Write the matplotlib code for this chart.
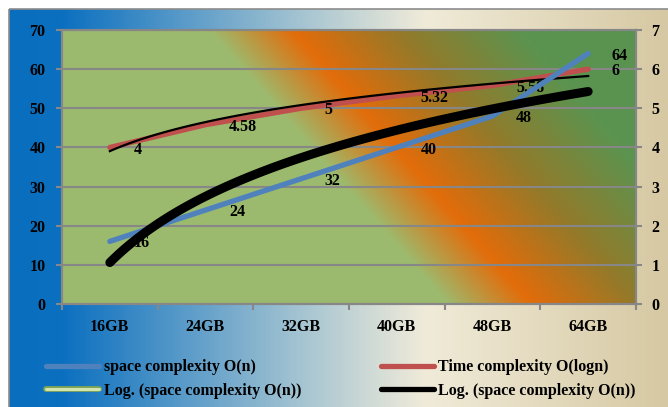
import matplotlib
matplotlib.use("Agg")
import matplotlib.pyplot as plt
import numpy as np
from matplotlib.colors import LinearSegmentedColormap
from matplotlib.lines import Line2D
from matplotlib import patheffects as pe

# data
categories = ["16GB", "24GB", "32GB", "40GB", "48GB", "64GB"]
space_vals = [16, 24, 32, 40, 48, 64]
time_vals = [4, 4.58, 5, 5.32, 5.58, 6]
time_labels = ["4", "4.58", "5", "5.32", "5.58", "6"]
legend_labels = ["space complexity O(n)", "Log. (space complexity O(n))",
                 "Time complexity O(logn)", "Log. (space complexity O(n))"]

W, H = 668, 407
GREY = "#878787"
BLUE = "#4F81BD"
RED = "#C0504D"

plt.rcParams['font.family'] = ['Liberation Serif', 'DejaVu Serif']
plt.rcParams['font.weight'] = 'bold'
plt.rcParams['font.size'] = 11.5

fig = plt.figure(figsize=(W / 100, H / 100), dpi=100)

# chart area background (horizontal gradient, blue -> cream -> tan)
bg = fig.add_axes([0, 0, 1, 1], zorder=-10)
bg.set_xlim(0, W)
bg.set_ylim(H, 0)
bg.axis('off')
outer = LinearSegmentedColormap.from_list(
    "outer", [(0, "#0A6EBE"), (0.08, "#0C70C0"), (0.45, "#A8C6D2"),
              (0.63, "#F0EBD9"), (1, "#D6C8A2")])
bg.imshow(np.linspace(0, 1, 400)[None, :], cmap=outer, extent=(9, W + 2, H + 2, 9),
          aspect='auto', interpolation='bilinear')
bg.add_patch(plt.Rectangle((8.5, 8.5), W, H, fill=False, ec="#8C8C8C", lw=1.2))

# plot area
ax = fig.add_axes([62 / W, 1 - 304 / H, 574 / W, 274 / H])
ax2 = ax.twinx()
ax.set_zorder(ax2.get_zorder() + 1)
ax.patch.set_visible(False)

# diagonal gradient fill of the plot area
u = np.linspace(0, 574, 400)
v = np.linspace(274, 0, 200)
U, V = np.meshgrid(u, v)
S = (U + 0.87 * V) / (574 + 0.87 * 274)
inner = LinearSegmentedColormap.from_list(
    "inner", [(0, "#9BBB6E"), (0.475, "#9DBA6E"), (0.578, "#E36C0A"),
              (0.71, "#937A2A"), (0.86, "#5B9450"), (1, "#5A9350")])
ax2.imshow(S, cmap=inner, vmin=0, vmax=1, extent=(-0.5, 5.5, 0, 7),
           aspect='auto', zorder=0, interpolation='bilinear')

x = np.arange(len(categories))
ax.plot(x, space_vals, color=BLUE, lw=3.8, solid_capstyle='round', zorder=3)
ax2.plot(x, time_vals, color=RED, lw=3.8, solid_capstyle='round', zorder=3)

# logarithmic trendlines (Excel style: y = a*ln(x) + b, x = 1..n)
xs = np.linspace(1, len(categories), 120)
a, b = np.polyfit(np.log(x + 1), space_vals, 1)
ax.plot(xs - 1, a * np.log(xs) + b, color='black', lw=6.5, solid_capstyle='round', zorder=4)
c, d = np.polyfit(np.log(x + 1), time_vals, 1)
ax2.plot(xs - 1, c * np.log(xs) + d, color='black', lw=1.6, zorder=4)

for i, val in enumerate(space_vals):
    ax.annotate(str(val), (x[i], val), xytext=(17, -1.5), textcoords='offset points',
                ha='left', va='center', zorder=6)
for i, val in enumerate(time_vals):
    ax2.annotate(time_labels[i], (x[i], val), xytext=(17, -1.5), textcoords='offset points',
                 ha='left', va='center', zorder=6)

ax.set_xlim(-0.5, 5.5)
ax.set_ylim(0, 70)
ax2.set_ylim(0, 7)
ax.set_yticks(range(0, 71, 10))
ax2.set_yticks(range(0, 8))
ax.set_xticks(np.arange(-0.5, 6, 1))
ax.set_xticklabels([])
ax.set_xticks(x, minor=True)
ax.set_xticklabels(categories, minor=True)
ax.tick_params(axis='x', which='minor', length=0, pad=11)
ax.tick_params(axis='x', which='major', length=4, width=1.5, color=GREY)
ax.tick_params(axis='y', length=4, width=1.5, color=GREY, pad=8)
ax2.tick_params(axis='y', length=4, width=1.5, color=GREY, pad=7)

ax2.yaxis.grid(True, color=GREY, lw=1.5)
ax2.set_axisbelow(True)
for a_ in (ax, ax2):
    for sp in a_.spines.values():
        sp.set_color(GREY)
        sp.set_linewidth(1.5)

handles = [
    Line2D([], [], color=BLUE, lw=3.8, solid_capstyle='round'),
    Line2D([], [], color="#D2E4B0", lw=2.2, solid_capstyle='round',
           path_effects=[pe.Stroke(linewidth=4.2, foreground="#7FA456", capstyle='round'), pe.Normal()]),
    Line2D([], [], color=RED, lw=3.8, solid_capstyle='round'),
    Line2D([], [], color='black', lw=3.8, solid_capstyle='round'),
]
fig.legend(handles, legend_labels, ncol=2, loc='center left',
           bbox_to_anchor=(46 / W, 1 - 379 / H), frameon=False,
           handlelength=3.3, handletextpad=0.3, columnspacing=5.0,
           labelspacing=0.45, borderpad=0, borderaxespad=0)

fig.savefig("out.png", dpi=100)
